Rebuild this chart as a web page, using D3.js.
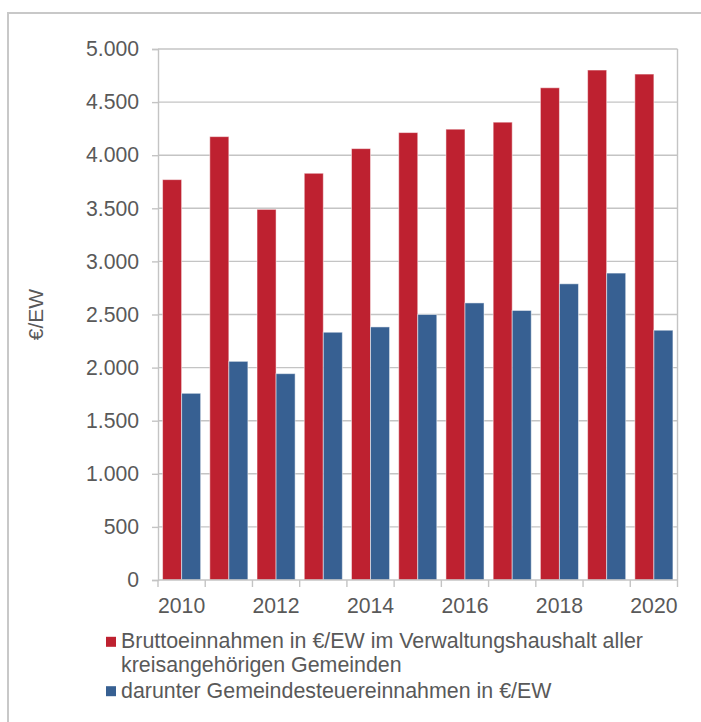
<!DOCTYPE html>
<html>
<head>
<meta charset="utf-8">
<script src="https://cdn.jsdelivr.net/npm/d3@7"></script>
<style>
  html, body { margin: 0; padding: 0; background: #fff; }
  svg { display: block; font-family: "Liberation Sans", Arial, sans-serif; }
</style>
</head>
<body>
<svg id="chart" width="701" height="722"></svg>
<script>
// Years on the x axis
const years = [2010, 2011, 2012, 2013, 2014, 2015, 2016, 2017, 2018, 2019, 2020];
// Gross revenue per inhabitant (administrative budget, all municipalities in the district)
const grossRevenue = [3770, 4175, 3490, 3830, 4062, 4213, 4245, 4311, 4635, 4802, 4764];
// Of which municipal tax revenue per inhabitant
const taxRevenue = [1758, 2059, 1943, 2333, 2383, 2500, 2609, 2538, 2789, 2890, 2352];
// Y tick values and series labels
const yTicks = [0, 500, 1000, 1500, 2000, 2500, 3000, 3500, 4000, 4500, 5000];
const seriesNames = [
  ["Bruttoeinnahmen in €/EW im Verwaltungshaushalt aller", "kreisangehörigen Gemeinden"],
  ["darunter Gemeindesteuereinnahmen in €/EW"]
];
const yLabel = "€/EW";

const colors = ["#be2130", "#376092"];
const textColor = "#595959";
const gridColor = "#c4c4c4";
const fontFamily = "'Liberation Sans', Arial, sans-serif";

const svg = d3.select("#chart");
const plot = { left: 158, right: 677.5, top: 49, bottom: 580 };

// Outer frame (extends past the right and bottom edges)
svg.append("rect")
  .attr("x", 8).attr("y", 13)
  .attr("width", 720).attr("height", 740)
  .attr("fill", "none").attr("stroke", "#c8c8c8").attr("stroke-width", 2);

const x = d3.scaleBand().domain(years).range([plot.left, plot.right]).padding(0);
const xInner = d3.scaleBand().domain([0, 1]).range([0, x.bandwidth()])
  .paddingInner(0).paddingOuter(0.24);
const y = d3.scaleLinear().domain([0, 5000]).range([plot.bottom, plot.top]);

const de = d3.formatLocale({ decimal: ",", thousands: ".", grouping: [3], currency: ["", " €"] });
const fmt = de.format(",");

// Horizontal gridlines
svg.append("g").selectAll("line")
  .data(yTicks.filter(v => v > 0))
  .join("line")
  .attr("x1", plot.left).attr("x2", plot.right)
  .attr("y1", d => y(d)).attr("y2", d => y(d))
  .attr("stroke", gridColor).attr("stroke-width", 1.4);

// Right border of plot area
svg.append("line")
  .attr("x1", plot.right).attr("x2", plot.right)
  .attr("y1", plot.top).attr("y2", plot.bottom)
  .attr("stroke", gridColor).attr("stroke-width", 1.4);

// Bars
const series = [grossRevenue, taxRevenue];
series.forEach((vals, si) => {
  svg.append("g").selectAll("rect")
    .data(years.map((yr, i) => ({ yr, v: vals[i] })))
    .join("rect")
    .attr("x", d => x(d.yr) + xInner(si))
    .attr("width", xInner.bandwidth())
    .attr("y", d => y(d.v))
    .attr("height", d => y(0) - y(d.v))
    .attr("fill", colors[si])
    .attr("stroke", "rgba(255,255,255,0.5)")
    .attr("stroke-width", 1);
});

// Y axis
const yAxis = svg.append("g")
  .attr("transform", `translate(${plot.left},0)`)
  .call(d3.axisLeft(y).tickValues(yTicks).tickFormat(fmt).tickSize(6).tickPadding(13));
yAxis.select(".domain").attr("stroke", gridColor).attr("stroke-width", 1.4);
yAxis.selectAll(".tick line").attr("stroke", gridColor).attr("stroke-width", 1.4);
yAxis.selectAll(".tick text")
  .attr("fill", textColor).attr("font-size", 21.2)
  .attr("font-family", fontFamily);

// X axis: labels on even years, tick marks on category boundaries
const xAxis = svg.append("g")
  .attr("transform", `translate(0,${plot.bottom})`)
  .call(d3.axisBottom(x).tickSize(0).tickPadding(18)
    .tickFormat(d => (d % 2 === 0 ? String(d) : "")));
xAxis.select(".domain").remove();
xAxis.selectAll(".tick text")
  .attr("fill", textColor).attr("font-size", 21.2)
  .attr("font-family", fontFamily);

svg.append("line")
  .attr("x1", plot.left).attr("x2", plot.right)
  .attr("y1", plot.bottom).attr("y2", plot.bottom)
  .attr("stroke", gridColor).attr("stroke-width", 1.4);

const boundaries = years.map(yr => x(yr)).concat([x(years[years.length - 1]) + x.bandwidth()]);
svg.append("g").selectAll("line")
  .data(boundaries)
  .join("line")
  .attr("x1", d => d).attr("x2", d => d)
  .attr("y1", plot.bottom).attr("y2", plot.bottom + 7)
  .attr("stroke", gridColor).attr("stroke-width", 1.4);

// Y axis title
svg.append("text")
  .attr("transform", `translate(43,${(plot.top + plot.bottom) / 2}) rotate(-90)`)
  .attr("text-anchor", "middle")
  .attr("fill", textColor).attr("font-size", 21)
  .attr("font-family", fontFamily)
  .text(yLabel);

// Legend
const legend = svg.append("g");
const entries = [
  { color: colors[0], lines: seriesNames[0], baseline: 648.3 },
  { color: colors[1], lines: seriesNames[1], baseline: 697.7 }
];
entries.forEach(e => {
  legend.append("rect")
    .attr("x", 106).attr("y", e.baseline - 11.5)
    .attr("width", 10).attr("height", 10)
    .attr("fill", e.color);
  const t = legend.append("text")
    .attr("x", 121).attr("y", e.baseline)
    .attr("fill", textColor).attr("font-size", 21.4)
    .attr("font-family", fontFamily);
  e.lines.forEach((ln, i) => {
    t.append("tspan").attr("x", 121).attr("dy", i === 0 ? 0 : 23.4).text(ln);
  });
});
</script>
</body>
</html>
